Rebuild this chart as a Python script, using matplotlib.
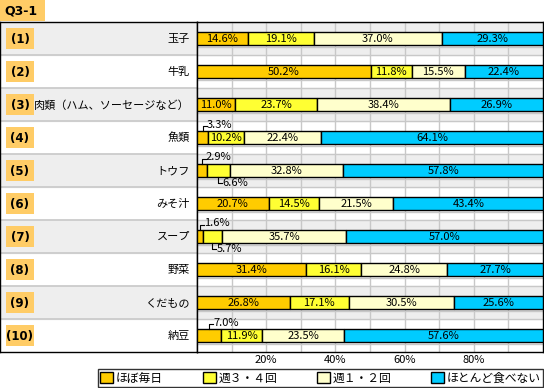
import matplotlib.pyplot as plt
from matplotlib.patches import Rectangle

plt.rcParams['font.family'] = ['Noto Sans CJK JP', 'DejaVu Sans']

# データ
items = ['玉子', '牛乳', '肉類（ハム、ソーセージなど）', '魚類', 'トウフ',
         'みそ汁', 'スープ', '野菜', 'くだもの', '納豆']
numbers = ['(1)', '(2)', '(3)', '(4)', '(5)', '(6)', '(7)', '(8)', '(9)', '(10)']
series_names = ['ほぼ毎日', '週３・４回', '週１・２回', 'ほとんど食べない']
mainichi = [14.6, 50.2, 11.0, 3.3, 2.9, 20.7, 1.6, 31.4, 26.8, 7.0]
shu34 = [19.1, 11.8, 23.7, 10.2, 6.6, 14.5, 5.7, 16.1, 17.1, 11.9]
shu12 = [37.0, 15.5, 38.4, 22.4, 32.8, 21.5, 35.7, 24.8, 30.5, 23.5]
tabenai = [29.3, 22.4, 26.9, 64.1, 57.8, 43.4, 57.0, 27.7, 25.6, 57.6]
xticks = [20, 40, 60, 80]

colors = ['#FFCC00', '#FFFF33', '#FFFFCC', '#00CCFF']
W, H = 544, 388

fig = plt.figure(figsize=(W / 100, H / 100), dpi=100)

top_px, bot_px = 22, 352
split_px, right_px = 197, 543
n = len(items)
row_px = (bot_px - top_px) / n

# 見出し Q3-1
fig.patches.append(Rectangle((0, 1 - 21 / H), 45 / W, 21 / H, transform=fig.transFigure,
                             facecolor='#FFCC66', edgecolor='none'))
fig.text(4 / W, 1 - 11 / H, 'Q3-1', fontsize=9, fontweight='bold', va='center', ha='left',
         family=['DejaVu Sans'])

# ラベル列
lax = fig.add_axes([0, 1 - bot_px / H, split_px / W, (bot_px - top_px) / H])
lax.set_xlim(0, split_px)
lax.set_ylim(n, 0)
for i in range(n):
    if i % 2 == 0:
        lax.axhspan(i, i + 1, color='#EEEEEE', zorder=0)
    if i > 0:
        lax.axhline(i, color='#C8C8C8', lw=1.2, zorder=1)
    lax.add_patch(Rectangle((6, i + 0.5 - 10.5 / row_px), 28, 21 / row_px,
                            facecolor='#FFCC66', edgecolor='none', zorder=2))
    lax.text(20, i + 0.52, numbers[i], fontsize=8.5, fontweight='bold', ha='center',
             va='center', family=['DejaVu Sans'], zorder=3)
    lax.text(190, i + 0.52, items[i], fontsize=8, ha='right', va='center', zorder=3)
lax.set_xticks([])
lax.set_yticks([])
for s in lax.spines.values():
    s.set_color('black')
    s.set_linewidth(1)

# グラフ部
ax = fig.add_axes([split_px / W, 1 - bot_px / H, (right_px - split_px) / W, (bot_px - top_px) / H])
ax.set_xlim(0, 100)
ax.set_ylim(n, 0)
bar_h = 13 / row_px
for i in range(n):
    if i % 2 == 0:
        ax.axhspan(i, i + 1, color='#EEEEEE', zorder=0)
    ax.axhline(i, color='#C8C8C8', lw=1, zorder=1)
    ax.axhline(i + 0.5 + bar_h / 2 + 2 / row_px, color='#C8C8C8', lw=1, zorder=1)
ax.vlines(range(10, 100, 10), 0, n, color='#C8C8C8', lw=1, zorder=1)

ypos = [i + 0.5 for i in range(n)]
series = [mainichi, shu34, shu12, tabenai]
left = [0.0] * n
handles = []
px_x = 100 / (right_px - split_px)
for k, vals in enumerate(series):
    b = ax.barh(ypos, vals, left=left, height=bar_h, color=colors[k], edgecolor='black',
                lw=1, zorder=3, label=series_names[k])
    handles.append(b)
    for i, v in enumerate(vals):
        cx = left[i] + v / 2
        if v >= 8 or (k > 1):
            ax.text(cx, ypos[i] + 0.02, f'{v:.1f}%', fontsize=8, ha='center', va='center', zorder=4)
        elif k == 0:
            # 上に注記
            y0 = ypos[i] - bar_h / 2
            y1 = ypos[i] - 12 / row_px
            ax.plot([cx, cx, cx + 4 * px_x], [y0, y1, y1], color='black', lw=0.8, zorder=4,
                    clip_on=False)
            ax.text(cx + 4 * px_x, ypos[i] - 13 / row_px, f'{v:.1f}%', fontsize=8, ha='left',
                    va='center', zorder=4)
        else:
            # 下に注記
            y0 = ypos[i] + bar_h / 2
            y1 = ypos[i] + 12 / row_px
            ax.plot([cx, cx, cx + 4 * px_x], [y0, y1, y1], color='black', lw=0.8, zorder=4,
                    clip_on=False)
            ax.text(cx + 4 * px_x, ypos[i] + 13 / row_px, f'{v:.1f}%', fontsize=8, ha='left',
                    va='center', zorder=4)
    left = [l + v for l, v in zip(left, vals)]

ax.set_xticks(xticks)
ax.set_xticklabels([f'{t}%' for t in xticks], fontsize=8)
ax.tick_params(axis='x', length=0, pad=2)
ax.set_yticks([])
for s in ax.spines.values():
    s.set_color('black')
    s.set_linewidth(1)

leg = fig.legend(handles=handles, labels=series_names, ncol=4, loc='lower left',
                 bbox_to_anchor=(98 / W, 1 / H, (right_px - 98) / W, 17 / H), mode='expand',
                 fontsize=8.5, frameon=True, fancybox=False, edgecolor='black',
                 handlelength=1.1, handleheight=1.0, handletextpad=0.2, borderpad=0.2,
                 borderaxespad=0, columnspacing=1.0)
leg.get_frame().set_linewidth(1)

fig.savefig('out.png', dpi=100)
